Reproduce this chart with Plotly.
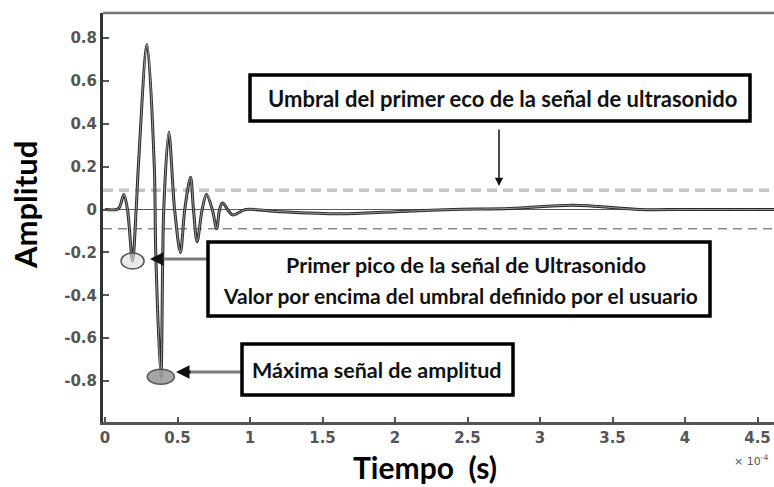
import plotly.graph_objects as go

# Ultrasonic echo signal (time axis in units of x10^-4 s)
tiempo = [0.0, 0.08, 0.10, 0.13, 0.155, 0.19, 0.215, 0.23, 0.29, 0.34, 0.35, 0.385,
          0.405, 0.44, 0.48, 0.52, 0.55, 0.59, 0.61, 0.635, 0.67, 0.70, 0.74, 0.77,
          0.79, 0.81, 0.88, 0.97, 1.20, 1.62, 2.00, 2.40, 2.80, 3.23, 3.69, 4.00, 4.62]
amplitud = [0.0, 0.0, 0.01, 0.07, 0.0, -0.24, 0.0, 0.20, 0.77, 0.20, -0.20, -0.78,
            0.0, 0.36, 0.0, -0.20, 0.0, 0.15, 0.0, -0.15, 0.0, 0.07, 0.0, -0.09,
            0.0, 0.03, -0.025, 0.0, -0.01, -0.02, -0.01, 0.0, 0.005, 0.02, 0.0, 0.0, 0.0]

umbral = 0.09                        # user-defined threshold (+/-)
x_ticks = [0, 0.5, 1, 1.5, 2, 2.5, 3, 3.5, 4, 4.5]
x_ticktext = ["0", "0.5", "1", "1.5", "2", "2.5", "3", "3.5", "4", "4.5"]
y_ticks = [0.8, 0.6, 0.4, 0.2, 0, -0.2, -0.4, -0.6, -0.8]
y_ticktext = ["0.8", "0.6", "0.4", "0.2", "0", "-0.2", "-0.4", "-0.6", "-0.8"]

# figure geometry (pixels)
W, H = 774, 487
L, R, T, B = 103, 774, 13, 422
X0PX, XSCALE = 105, 145.0            # pixel of t=0 and px per unit
Y0PX, YSCALE = 209.5, 214.4          # pixel of amplitude 0 and px per unit

x_range = [(L - X0PX) / XSCALE, (R - X0PX) / XSCALE]
y_range = [-(B - Y0PX) / YSCALE, (Y0PX - T) / YSCALE]


def pxx(xp):
    return (xp - L) / (R - L)


def pxy(yp):
    return (B - yp) / (B - T)


fig = go.Figure()

# signal: dark outer stroke with lighter core
fig.add_trace(go.Scatter(x=tiempo, y=amplitud, mode="lines", hoverinfo="skip",
                         line=dict(color="#2a2a2a", width=3.0, shape="spline", smoothing=0.9)))
fig.add_trace(go.Scatter(x=tiempo, y=amplitud, mode="lines", hoverinfo="skip",
                         line=dict(color="#9a9a9a", width=1.0, shape="spline", smoothing=0.9)))

shapes = []
# threshold lines
shapes.append(dict(type="line", xref="paper", yref="y", x0=0, x1=1, y0=umbral, y1=umbral,
                   line=dict(color="#c4c4c4", width=3.5, dash="10px,6px"), layer="below"))
shapes.append(dict(type="line", xref="paper", yref="y", x0=0, x1=1, y0=-umbral, y1=-umbral,
                   line=dict(color="#8a8a8a", width=1.5, dash="9px,6px"), layer="below"))
# top frame
shapes.append(dict(type="line", xref="paper", yref="paper", x0=0, x1=1, y0=1, y1=1,
                   line=dict(color="#777777", width=2.5)))

# ellipses around the first peak above threshold and the maximum amplitude
i_first = 5
i_max = amplitud.index(min(amplitud))
for idx, rx, ry, fill in [(i_first, 11.5, 8, "rgba(220,220,220,0.6)"),
                          (i_max, 13.5, 7.5, "rgba(150,150,150,0.85)")]:
    cx, cy = tiempo[idx], amplitud[idx]
    shapes.append(dict(type="circle", xref="x", yref="y",
                       x0=cx - rx / XSCALE, x1=cx + rx / XSCALE,
                       y0=cy - ry / YSCALE, y1=cy + ry / YSCALE,
                       line=dict(color="#555555", width=1.5), fillcolor=fill))

# connector lines from the text boxes
shapes.append(dict(type="line", xref="paper", yref="paper", x0=pxx(160), x1=pxx(208),
                   y0=pxy(259), y1=pxy(259), line=dict(color="#7a7a7a", width=3)))
shapes.append(dict(type="line", xref="paper", yref="paper", x0=pxx(188), x1=pxx(242),
                   y0=pxy(372), y1=pxy(372), line=dict(color="#7a7a7a", width=3)))

# text boxes
boxes = [(250, 75, 750, 121), (208, 242, 710, 316), (242, 344, 513, 395)]
for x0, y0, x1, y1 in boxes:
    shapes.append(dict(type="rect", xref="paper", yref="paper",
                       x0=pxx(x0), x1=pxx(x1), y0=pxy(y0), y1=pxy(y1),
                       line=dict(color="black", width=3.5), fillcolor="white"))


def box_font(size):
    return dict(family="Lato", size=size, color="#111111")


def label(text, xp, yp, font, **kw):
    return dict(text=text, x=pxx(xp), y=pxy(yp), xref="paper", yref="paper",
                xanchor=kw.pop("xanchor", "center"), yanchor="middle",
                showarrow=False, font=font, **kw)


annotations = [
    label("<b>Umbral del primer eco de la señal de ultrasonido</b>", 502, 98, box_font(22)),
    label("<b>Primer pico de la señal de Ultrasonido</b>", 466, 265, box_font(21.5)),
    label("<b>Valor por encima del umbral definido por el usuario</b>", 460, 295, box_font(21)),
    label("<b>Máxima señal de amplitud</b>", 376, 370, box_font(21.5)),
    # arrows
    dict(x=(499 - X0PX) / XSCALE, y=(Y0PX - 186) / YSCALE, xref="x", yref="y",
         ax=0, ay=-58, text="", showarrow=True, arrowhead=2, arrowsize=1.1,
         arrowwidth=1.5, arrowcolor="#111111"),
    dict(x=pxx(150), y=pxy(259), xref="paper", yref="paper", ax=14, ay=0, text="",
         showarrow=True, arrowhead=2, arrowsize=0.9, arrowwidth=3, arrowcolor="#111111"),
    dict(x=pxx(176), y=pxy(372), xref="paper", yref="paper", ax=16, ay=0, text="",
         showarrow=True, arrowhead=2, arrowsize=0.9, arrowwidth=3, arrowcolor="#111111"),
    # axis titles
    label("<b>Amplitud</b>", 25, 205, dict(family="Lato", size=31, color="black"),
          textangle=-90),
    label("<b>Tiempo\u00a0\u00a0(s)</b>", 425, 467, dict(family="Lato", size=30, color="black")),
    label("× 10<sup>-4</sup>", 732, 460,
          dict(family="DejaVu Sans", size=11, color="#555555"), xanchor="left"),
]

tick_font = dict(family="DejaVu Sans", size=15, color="#555555", weight="bold")
fig.update_layout(
    width=W, height=H,
    margin=dict(l=L, r=W - R, t=T, b=H - B, pad=0),
    paper_bgcolor="white", plot_bgcolor="white",
    showlegend=False,
    shapes=shapes,
    annotations=annotations,
    xaxis=dict(range=x_range, tickvals=x_ticks, ticktext=x_ticktext, showgrid=False,
               zeroline=False, showline=True, linecolor="#555555", linewidth=2.5,
               ticks="inside", ticklen=5, tickcolor="#555555", tickwidth=1.5,
               tickfont=tick_font, fixedrange=True),
    yaxis=dict(range=y_range, tickvals=y_ticks, ticktext=y_ticktext, showgrid=False,
               zeroline=True, zerolinecolor="#5a5a5a", zerolinewidth=1,
               showline=True, linecolor="#333333", linewidth=3,
               ticks="inside", ticklen=6, tickcolor="#555555", tickwidth=2,
               tickfont=tick_font, fixedrange=True),
)

fig.write_html("out.html")
